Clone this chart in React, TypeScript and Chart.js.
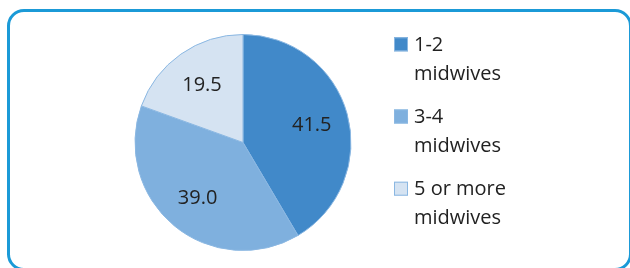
import React, { useEffect, useRef } from "react";
import { Chart, registerables } from "chart.js";

Chart.register(...registerables);

// ---- data ----
const categories: string[][] = [
  ["1-2", "midwives"],
  ["3-4", "midwives"],
  ["5 or more", "midwives"],
];
const shares: number[] = [41.5, 39.0, 19.5];
const sliceColors: string[] = ["#4189c9", "#7fb0de", "#d5e3f2"];

const FONT = "'Open Sans', sans-serif";
const TEXT = "#222222";

const sliceLabelPlugin = {
  id: "sliceLabels",
  afterDatasetsDraw(chart: any) {
    const ctx = chart.ctx;
    const meta = chart.getDatasetMeta(0);
    const values = chart.data.datasets[0].data as number[];
    ctx.save();
    ctx.font = `20px ${FONT}`;
    ctx.fillStyle = TEXT;
    ctx.textAlign = "center";
    ctx.textBaseline = "alphabetic";
    meta.data.forEach((arc: any, i: number) => {
      const { x, y, startAngle, endAngle, outerRadius } = arc.getProps(
        ["x", "y", "startAngle", "endAngle", "outerRadius"],
        true
      );
      const mid = (startAngle + endAngle) / 2;
      const r = outerRadius * 0.66;
      ctx.fillText(
        Number(values[i]).toFixed(1),
        x + Math.cos(mid) * r,
        y + Math.sin(mid) * r + 7
      );
    });
    ctx.restore();
  },
};

const sideLegendPlugin = {
  id: "sideLegend",
  afterDraw(chart: any) {
    const ctx = chart.ctx;
    const labels = chart.data.labels as string[][];
    const colors = chart.data.datasets[0].backgroundColor as string[];
    const boxX = 394;
    const firstTop = 37.3;
    const box = 14;
    const itemGap = 72.2;
    const lineGap = 29;
    const textX = 414;
    ctx.save();
    ctx.font = `20px ${FONT}`;
    ctx.textAlign = "left";
    ctx.textBaseline = "alphabetic";
    labels.forEach((lines, i) => {
      const top = firstTop + i * itemGap;
      ctx.fillStyle = colors[i];
      ctx.fillRect(boxX, top, box, box);
      ctx.strokeStyle = "#8ab7e2";
      ctx.lineWidth = 1;
      ctx.strokeRect(boxX + 0.5, top + 0.5, box - 1, box - 1);
      ctx.fillStyle = TEXT;
      lines.forEach((line, j) => {
        ctx.fillText(line, textX, top + 13.4 + j * lineGap);
      });
    });
    ctx.restore();
  },
};

export default function App() {
  const canvasRef = useRef<HTMLCanvasElement | null>(null);

  useEffect(() => {
    if (!canvasRef.current) return;
    const chart = new Chart(canvasRef.current, {
      type: "pie",
      data: {
        labels: categories,
        datasets: [
          {
            data: shares,
            backgroundColor: sliceColors,
            borderColor: "#8ab7e2",
            borderWidth: 1,
            radius: 108,
          } as any,
        ],
      },
      options: {
        animation: false,
        responsive: false,
        maintainAspectRatio: false,
        layout: { padding: { left: 106, right: 250, top: 17, bottom: 0 } },
        plugins: {
          legend: { display: false },
          tooltip: { enabled: false },
        },
      },
      plugins: [sliceLabelPlugin, sideLegendPlugin],
    });
    return () => chart.destroy();
  }, []);

  return (
    <div
      style={{
        position: "fixed",
        left: 0,
        top: 0,
        width: 630,
        height: 268,
        background: "#ffffff",
        overflow: "hidden",
      }}
    >
      <div
        style={{
          position: "absolute",
          left: 7,
          top: 9,
          width: 625,
          height: 262,
          boxSizing: "border-box",
          border: "3px solid #1b9ad7",
          borderRadius: 17,
        }}
      />
      <canvas
        ref={canvasRef}
        width={630}
        height={268}
        style={{ position: "absolute", left: 0, top: 0, width: 630, height: 268 }}
      />
    </div>
  );
}
